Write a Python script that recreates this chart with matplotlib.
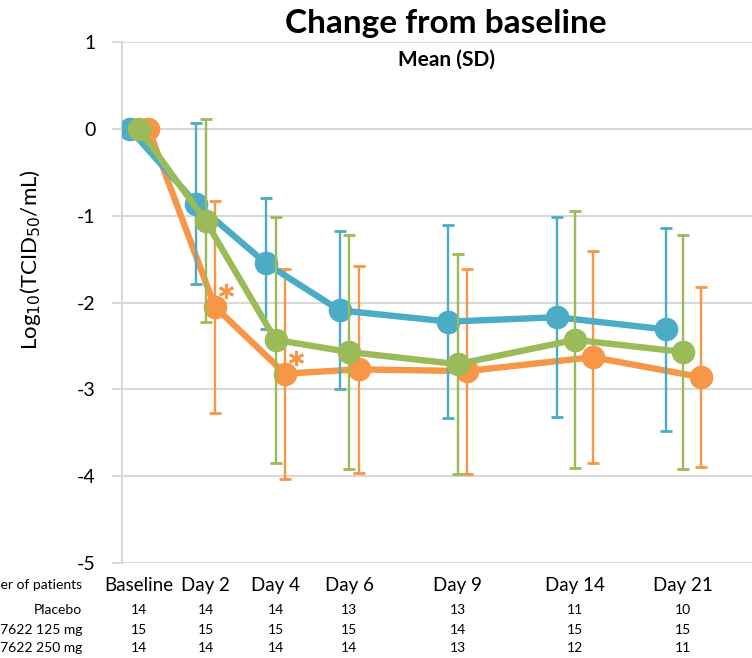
import matplotlib.pyplot as plt
import matplotlib.transforms as mtrans
import numpy as np

plt.rcParams['font.family'] = ['Lato', 'DejaVu Sans']

# categories and where they sit on the x axis
days = ['Baseline', 'Day 2', 'Day 4', 'Day 6', 'Day 9', 'Day 14', 'Day 21']
x_pos = [0, 1.9, 3.9, 6.0, 9.1, 12.45, 15.55]
shift = [0.27, 0.27, 0.27, 0.27, 0.26, 0.51, 0.51]

# mean change from baseline, log10(TCID50/mL), and SD
placebo_mean = [0, -0.86, -1.55, -2.09, -2.22, -2.17, -2.31]
placebo_sd = [0, 0.93, 0.75, 0.91, 1.11, 1.15, 1.17]
dose125_mean = [0, -1.06, -2.43, -2.57, -2.71, -2.43, -2.57]
dose125_sd = [0, 1.17, 1.42, 1.35, 1.27, 1.48, 1.35]
dose250_mean = [0, -2.05, -2.82, -2.77, -2.79, -2.63, -2.86]
dose250_sd = [0, 1.22, 1.21, 1.19, 1.18, 1.22, 1.04]
sig_250 = [False, True, True, False, False, False, False]

# number of patients table
row_names = ['Placebo', '17622 125 mg', '17622 250 mg']
n_placebo = [14, 14, 14, 13, 13, 11, 10]
n_125 = [15, 15, 15, 15, 14, 15, 15]
n_250 = [14, 14, 14, 14, 13, 12, 11]

blue = '#4BACC6'
green = '#9BBB59'
orange = '#F79646'
grid = '#D9D9D9'

fig = plt.figure(figsize=(7.52, 6.58), dpi=100)
ax = fig.add_axes([122/752, 1 - 563/658, 1 - 122/752, 521/658])

x = np.array(x_pos)
sh = np.array(shift)
series = [
    (x - sh, placebo_mean, placebo_sd, blue, 3),
    (x + sh, dose250_mean, dose250_sd, orange, 2),
    (x, dose125_mean, dose125_sd, green, 4),
]
for xs, m, sd, c, z in series:
    ax.errorbar(xs, m, yerr=sd, color=c, lw=4.6, marker='o', ms=16,
                ecolor=c, elinewidth=1.7, capsize=4.5, capthick=2,
                zorder=z)

# asterisks for significant differences, a little up and right of the point
star_tr = ax.transData + mtrans.ScaledTranslation(8/72, 11.5/72, fig.dpi_scale_trans)
xs_sig = (x + sh)[np.array(sig_250)]
ys_sig = np.array(dose250_mean)[np.array(sig_250)]
ax.plot(xs_sig, ys_sig, ls='none', marker=(6, 2, 0), ms=11, mew=2,
        color=orange, transform=star_tr, zorder=6)

ax.set_xlim(-0.486, 17.51)
ax.set_ylim(-5, 1)
ax.set_yticks(range(-5, 2))
ax.set_yticklabels([str(v) for v in range(-5, 2)], fontsize=14)
ax.tick_params(axis='y', length=7, width=1.5, color=grid, pad=12)
ax.set_xticks(x_pos)
ax.set_xticklabels(days, fontsize=13.5)
ax.tick_params(axis='x', length=0, pad=10)
ax.grid(axis='y', color=grid, lw=1.5)
ax.set_axisbelow(True)
for s in ['top', 'right', 'bottom']:
    ax.spines[s].set_visible(False)
ax.spines['left'].set_color(grid)
ax.spines['left'].set_linewidth(1.5)

ax.set_ylabel('Log$_{10}$(TCID$_{50}$/mL)', fontsize=16)
ax.yaxis.set_label_coords(-0.125, 0.583)

fig.text(446/752, 1 - 23/658, 'Change from baseline', ha='center',
         va='center', fontsize=24, fontweight='bold')
fig.text(446/752, 1 - 60/658, 'Mean (SD)', ha='center', va='center',
         fontsize=15, fontweight='bold')

# patient count table under the axis
tr = ax.get_xaxis_transform()
fig.text(82/752, 1 - 585/658, 'Number of patients', ha='right', va='center',
         fontsize=10)
rows_y = [610, 630, 648]
for name, counts, ypx in zip(row_names, [n_placebo, n_125, n_250], rows_y):
    yf = (563 - ypx) / 521
    fig.text(82/752, 1 - ypx/658, name, ha='right', va='center', fontsize=10)
    for xp, n in zip(x_pos, counts):
        ax.text(xp, yf, str(n), transform=tr, ha='center', va='center',
                fontsize=10, clip_on=False)

fig.savefig('out.png', dpi=100)
